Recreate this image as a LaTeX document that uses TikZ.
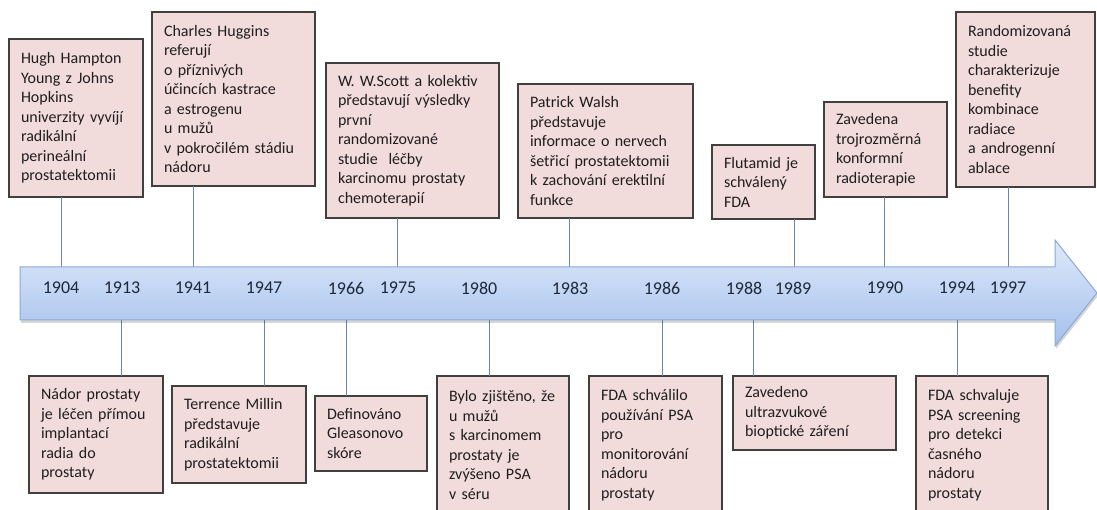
\documentclass[tikz,border=0pt]{standalone}
\usepackage{fontspec}
\setmainfont{Carlito}
\definecolor{boxfill}{RGB}{242,220,219}
\definecolor{boxline}{RGB}{64,64,64}
\definecolor{connc}{RGB}{105,135,160}
\definecolor{arrtop}{RGB}{222,233,249}
\definecolor{arrbot}{RGB}{163,192,237}
\definecolor{arrline}{RGB}{140,168,212}
\definecolor{yeartext}{RGB}{30,40,60}
\definecolor{boxtext}{RGB}{30,30,30}
\tikzset{
  event/.style={draw=boxline, line width=1.1pt, fill=boxfill, anchor=north west,
    align=left, inner xsep=12pt, inner ysep=0pt, outer sep=0pt, text=boxtext,
    font=\fontsize{16}{19.5}\selectfont},
  connector/.style={draw=connc, line width=1pt},
  yearlabel/.style={font=\fontsize{18}{20}\selectfont, text=yeartext, inner sep=0pt},
}
\begin{document}
\begin{tikzpicture}[x=1pt,y=-1pt]
\useasboundingbox (0,0) rectangle (1097,510);
\clip (0,0) rectangle (1097,510);
\fill[white] (0,0) rectangle (1097,510);

% upper events
\node[event, minimum width=134pt, minimum height=158pt, text width=110pt] (u1904) at (9,39)
  {Hugh Hampton\\Young z Johns\\Hopkins\\univerzity vyvíjí\\radikální\\perineální\\prostatektomii};
\node[event, minimum width=163pt, minimum height=174pt, text width=139pt] (u1941) at (152,12)
  {Charles Huggins\\referují\\o příznivých\\účincích kastrace\\a estrogenu\\u mužů\\v pokročilém stádiu\\nádoru};
\node[event, minimum width=173pt, minimum height=155pt, text width=149pt] (u1975) at (326,63)
  {W. W.Scott a kolektiv\\představují výsledky\\první\\randomizované\\studie \ léčby\\karcinomu prostaty\\chemoterapií};
\node[event, minimum width=175pt, minimum height=134pt, text width=151pt] (u1983) at (518,84)
  {Patrick Walsh\\představuje\\informace o nervech\\šetřicí prostatektomii\\k zachování erektilní\\funkce};
\node[event, minimum width=103pt, minimum height=74pt, text width=79pt] (u1989) at (712,145)
  {Flutamid je\\schválený\\FDA};
\node[event, minimum width=123pt, minimum height=95pt, text width=99pt] (u1990) at (824,102)
  {Zavedena\\trojrozměrná\\konformní\\radioterapie};
\node[event, minimum width=139pt, minimum height=175pt, text width=115pt] (u1997) at (956,12)
  {Randomizovaná\\studie\\charakterizuje\\benefity\\kombinace\\radiace\\a androgenní\\ablace};

% lower events
\node[event, minimum width=134pt, minimum height=117pt, text width=110pt] (l1913) at (29,376)
  {Nádor prostaty\\je léčen přímou\\implantací\\radia do\\prostaty};
\node[event, minimum width=134pt, minimum height=97pt, text width=110pt] (l1947) at (172,386)
  {Terrence Millin\\představuje\\radikální\\prostatektomii};
\node[event, minimum width=112pt, minimum height=75pt, text width=88pt] (l1966) at (315,396)
  {Definováno\\Gleasonovo\\skóre};
\node[event, minimum width=132pt, minimum height=138pt, text width=108pt] (l1980) at (437,376)
  {Bylo zjištěno, že\\u mužů\\s karcinomem\\prostaty je\\zvýšeno PSA\\v séru};
\node[event, minimum width=133pt, minimum height=138pt, text width=109pt] (l1986) at (589,376)
  {FDA schválilo\\používání PSA\\pro\\monitorování\\nádoru\\prostaty};
\node[event, minimum width=163pt, minimum height=74pt, text width=139pt] (l1988) at (733,376)
  {Zavedeno\\ultrazvukové\\bioptické záření};
\node[event, minimum width=132pt, minimum height=138pt, text width=108pt] (l1994) at (916,376)
  {FDA schvaluje\\PSA screening\\pro detekci\\časného\\nádoru\\prostaty};

% connector end points on the arrow
\coordinate (a1904) at (61,267);
\coordinate (a1941) at (193,267);
\coordinate (a1975) at (397,267);
\coordinate (a1983) at (569,267);
\coordinate (a1989) at (794,267);
\coordinate (a1990) at (884,267);
\coordinate (a1997) at (1008,267);
\coordinate (b1913) at (121,320);
\coordinate (b1947) at (264,320);
\coordinate (b1966) at (346,320);
\coordinate (b1980) at (489,320);
\coordinate (b1986) at (662,320);
\coordinate (b1988) at (753,320);
\coordinate (b1994) at (957,320);

\foreach \yr in {1904,1941,1975,1983,1989,1990,1997}
  \draw[connector] (u\yr.south -| a\yr) -- (a\yr);
\foreach \yr in {1913,1947,1966,1980,1986,1988,1994}
  \draw[connector] (b\yr) -- (l\yr.north -| b\yr);

% timeline arrow
\fill[black, opacity=0.16, shift={(1,3)}]
  (20,267) -- (1055,267) -- (1055,240) -- (1097,293) -- (1055,346) -- (1055,320) -- (20,320) -- cycle;
\path[draw=arrline, line width=1pt, top color=arrtop, bottom color=arrbot]
  (20,267) -- (1055,267) -- (1055,240) -- (1097,293) -- (1055,346) -- (1055,320) -- (20,320) -- cycle;

% years
\node[yearlabel] (y1904) at (61,288) {1904};
\node[yearlabel] (y1913) at (122,288) {1913};
\node[yearlabel] (y1941) at (193,288) {1941};
\node[yearlabel] (y1947) at (264,288) {1947};
\node[yearlabel] (y1966) at (346,288) {1966};
\node[yearlabel] (y1975) at (398,288) {1975};
\node[yearlabel] (y1980) at (479,288) {1980};
\node[yearlabel] (y1983) at (570,288) {1983};
\node[yearlabel] (y1986) at (662,288) {1986};
\node[yearlabel] (y1988) at (744,288) {1988};
\node[yearlabel] (y1989) at (793,288) {1989};
\node[yearlabel] (y1990) at (885,288) {1990};
\node[yearlabel] (y1994) at (957,288) {1994};
\node[yearlabel] (y1997) at (1008,288) {1997};
\end{tikzpicture}
\end{document}
